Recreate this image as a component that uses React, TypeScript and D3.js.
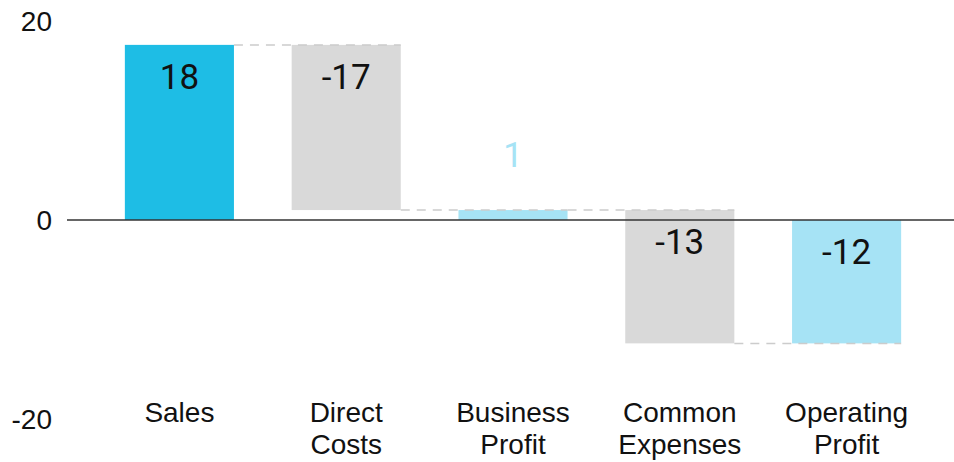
import React from "react";
import * as d3 from "d3";

const categories = ["Sales", "Direct Costs", "Business Profit", "Common Expenses", "Operating Profit"];
const values = [17.6, -16.6, 1.0, -13.4, -12.4];
const kinds = ["total", "delta", "total", "delta", "total"];
const categoryLines = [["Sales"], ["Direct", "Costs"], ["Business", "Profit"], ["Common", "Expenses"], ["Operating", "Profit"]];
const yTicks = [-20, 0, 20];
const barColors = ["#1EBDE5", "#D9D9D9", "#A6E3F5", "#D9D9D9", "#A6E3F5"];

const W = 954;
const H = 462;

export default function App() {
  const x = d3.scaleBand<string>().domain(categories).range([96, 930]).paddingInner(0.346).paddingOuter(0.173);
  const y = d3.scaleLinear().domain([-20, 20]).range([419, 21]);

  let cum = 0;
  const bars = categories.map((c, i) => {
    let start: number, end: number;
    if (kinds[i] === "total") {
      start = 0;
      end = values[i];
    } else {
      start = cum;
      end = cum + values[i];
    }
    cum = end;
    return { c, i, start, end, level: end };
  });

  const font = "Roboto, 'Noto Sans', sans-serif";
  const labelFont = "'Liberation Sans', Arial, sans-serif";

  return (
    <svg width={W} height={H} style={{ position: "absolute", left: 0, top: 0, background: "#fff" }} fontFamily={font}>
      {yTicks.map((t) => (
        <text key={t} x={52} y={y(t)} dy="0.36em" textAnchor="end" fontSize={28} fontFamily={labelFont} fill="#111">
          {t}
        </text>
      ))}
      {bars.map((b) => {
        const top = y(Math.max(b.start, b.end));
        const bot = y(Math.min(b.start, b.end));
        return (
          <rect key={b.c} x={x(b.c)} y={top} width={x.bandwidth()} height={bot - top} fill={barColors[b.i]} />
        );
      })}
      <line x1={67} x2={W} y1={y(0)} y2={y(0)} stroke="#333" strokeWidth={1.5} />
      {bars.slice(0, -1).map((b, i) => {
        const nxt = bars[i + 1];
        const x1 = (x(b.c) as number) + x.bandwidth();
        const x2 = (x(nxt.c) as number) + x.bandwidth();
        return (
          <line key={"c" + i} x1={x1} x2={x2} y1={y(b.level)} y2={y(b.level)} stroke="#CCCCCC" strokeWidth={1.5} strokeDasharray="9,7" />
        );
      })}
      {bars.map((b) => {
        const top = y(Math.max(b.start, b.end));
        const bot = y(Math.min(b.start, b.end));
        const cx = (x(b.c) as number) + x.bandwidth() / 2;
        const label = String(Math.round(values[b.i]));
        const inside = bot - top > 40;
        return (
          <text
            key={"v" + b.c}
            x={cx}
            y={inside ? top + 44 : top - 43}
            textAnchor="middle"
            fontSize={35}
            fill={inside ? "#111" : barColors[b.i]}
          >
            {label}
          </text>
        );
      })}
      {categories.map((c, i) => (
        <text key={"l" + c} x={(x(c) as number) + x.bandwidth() / 2} y={422} textAnchor="middle" fontSize={28} fontFamily={labelFont} fill="#111">
          {categoryLines[i].map((ln, k) => (
            <tspan key={k} x={(x(c) as number) + x.bandwidth() / 2} dy={k === 0 ? 0 : 32}>
              {ln}
            </tspan>
          ))}
        </text>
      ))}
    </svg>
  );
}
